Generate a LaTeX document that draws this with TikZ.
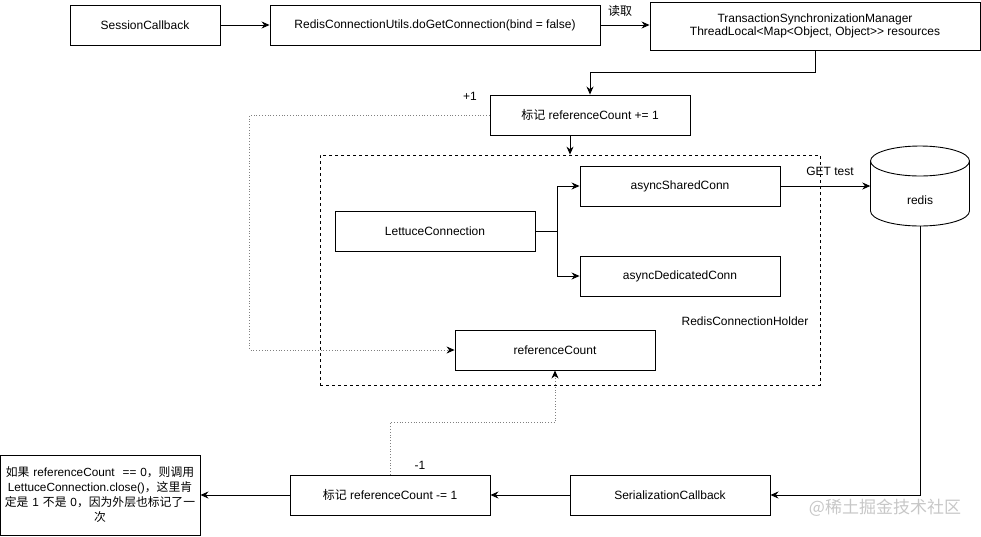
\documentclass[tikz,border=0pt]{standalone}
\usepackage{fontspec}
\setmainfont{Liberation Sans}
\newfontfamily\cjk{Noto Sans CJK SC}
\usetikzlibrary{arrows.meta,calc}
\newcommand\zh[1]{{\cjk #1}}
\tikzset{
  box/.style={draw, line width=0.9pt, minimum width=200pt, minimum height=40pt, inner sep=0pt, align=center, font=\fontsize{12}{14}\selectfont},
  lbl/.style={inner sep=0pt, font=\fontsize{12}{14}\selectfont},
  conn/.style={line width=0.9pt, -{Stealth[length=8pt,width=7pt]}},
  dotconn/.style={line width=0.8pt, gray, dotted, -{Stealth[length=8pt,width=7pt,black]}},
  plain/.style={line width=0.9pt}
}
\begin{document}
\begin{tikzpicture}[x=1pt,y=-1pt]
\useasboundingbox (0,0) rectangle (981,536);
% container
\node[draw, dashed, line width=0.8pt, minimum width=500pt, minimum height=230pt, inner sep=0pt] (holder) at (570,270) {};
\node[lbl] (holderlbl) at (745,321) {RedisConnectionHolder};
% nodes
\node[box, minimum width=150pt] (sc) at (145,25) {SessionCallback};
\node[box, minimum width=330pt] (rcu) at (435,25) {RedisConnectionUtils.doGetConnection(bind = false)};
\node[box, minimum width=330pt, minimum height=48pt] (tsm) at (815,26) {TransactionSynchronizationManager\\[-1pt]ThreadLocal<Map<Object, Object>{}> resources};
\node[box] (m1) at (590,115) {\zh{标记} referenceCount += 1};
\node[box] (asc) at (680,186) {asyncSharedConn};
\node[box] (lc) at (435,231) {LettuceConnection};
\node[box] (adc) at (680,276) {asyncDedicatedConn};
\node[box] (rc) at (555,350) {referenceCount};
\node[box] (ser) at (670,495) {SerializationCallback};
\node[box] (m2) at (390,495) {\zh{标记} referenceCount -= 1};
\node[box, minimum height=80pt, text width=198pt, font=\fontsize{11.8}{15}\selectfont] (note) at (100,495) {\zh{如果} referenceCount\ \ == 0\zh{，则调用}\\LettuceConnection.close()\zh{，这里肯}\\\zh{定是} 1 \zh{不是} 0\zh{，因为外层也标记了一}\\\zh{次}};
% redis cylinder
\draw[plain, fill=white] (870.5,161) -- (870.5,211) arc[start angle=180, end angle=360, x radius=49.5pt, y radius=15pt] -- (969.5,161);
\draw[plain] (920,161) ellipse[x radius=49.5pt, y radius=15pt];
\node[minimum width=99pt, minimum height=80pt, inner sep=0pt] (redis) at (920,186) {};
\node[lbl] (redislbl) at (920,200) {redis};
% labels
\node[lbl] (read) at (620,11) {\zh{读取}};
\node[lbl] (plus) at (470,96) {+1};
\node[lbl] (minus) at (420,465) {-1};
\node[lbl] (get) at (830,171) {GET test};
% connectors
\draw[conn] (sc.east) -- (rcu.west);
\draw[conn] (rcu.east) -- (rcu.east -| tsm.west);
\draw[conn] (tsm.south) -- ++(0,22) -| (m1.north);
\draw[conn] (m1.south -| holder.north) -- (holder.north);
\draw[dotconn] (m1.west) -- ++(-240,0) |- (rc.west);
\draw[plain] (lc.east) -- ++(22,0) coordinate (fork);
\draw[conn] (fork) |- (asc.west);
\draw[conn] (fork) |- (adc.west);
\draw[conn] (asc.east) -- (redis.west);
\draw[conn] (redis.south) |- (ser.east);
\draw[conn] (ser.west) -- (m2.east);
\draw[conn] (m2.west) -- (note.east);
\draw[dotconn] (m2.north) -- ++(0,-52) -| (rc.south);
% watermark
\node[inner sep=0pt, text=black!22, font=\cjk\fontsize{17}{17}\selectfont] (wm) at (885,508) {@稀土掘金技术社区};
\end{tikzpicture}
\end{document}
